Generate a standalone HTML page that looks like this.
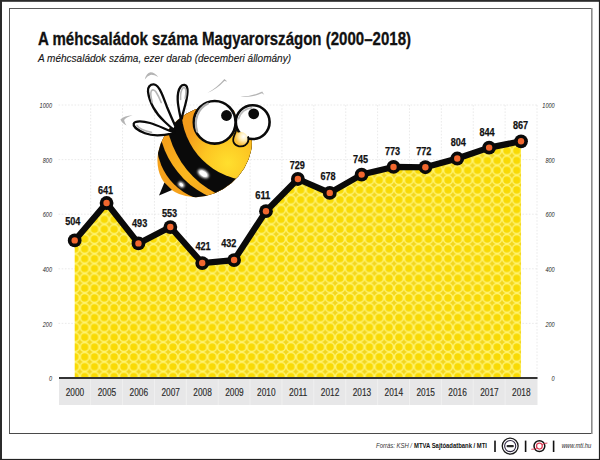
<!DOCTYPE html>
<html><head><meta charset="utf-8"><title>A méhcsaládok száma Magyarországon</title>
<style>
html,body{margin:0;padding:0;background:#fff;}
body{width:600px;height:460px;overflow:hidden;font-family:"Liberation Sans",sans-serif;}
svg{display:block;font-family:"Liberation Sans",sans-serif;}
</style></head><body>
<svg width="600" height="460" viewBox="0 0 600 460">
<defs>
<pattern id="honey" x="1.2" y="-1.55" width="9.82" height="9.82" patternUnits="userSpaceOnUse">
<rect width="9.82" height="9.82" fill="#f3d61e"/>
<circle cx="4.91" cy="4.91" r="4.4" fill="#f9da05"/>
<g fill="none" stroke="#fff36c" stroke-width="1.5">
<circle cx="4.91" cy="4.91" r="4.4"/>
<circle cx="-4.91" cy="4.91" r="4.4"/>
<circle cx="14.73" cy="4.91" r="4.4"/>
<circle cx="4.91" cy="-4.91" r="4.4"/>
<circle cx="4.91" cy="14.73" r="4.4"/>
</g>
</pattern>
<radialGradient id="bodyg" gradientUnits="userSpaceOnUse" cx="228" cy="163" r="48">
<stop offset="0" stop-color="#ffdf2e"/><stop offset="0.5" stop-color="#fdc622"/><stop offset="1" stop-color="#f49c1b"/>
</radialGradient>
<linearGradient id="stripeg" gradientUnits="userSpaceOnUse" x1="165" y1="140" x2="205" y2="195">
<stop offset="0" stop-color="#f5a01b"/><stop offset="0.6" stop-color="#fbb81f"/><stop offset="1" stop-color="#f7a81c"/>
</linearGradient>
<radialGradient id="noseg" gradientUnits="userSpaceOnUse" cx="243.6" cy="136.6" r="8.6">
<stop offset="0" stop-color="#ffffff"/><stop offset="0.45" stop-color="#ffeeb8"/><stop offset="1" stop-color="#f9bf3c"/>
</radialGradient>
<clipPath id="bodyclip"><ellipse cx="204.6" cy="151.5" rx="50.9" ry="41.5" transform="rotate(-40.4 204.6 151.5)"/></clipPath>
<filter id="blur0" x="-50%" y="-50%" width="200%" height="200%"><feGaussianBlur stdDeviation="0.45"/></filter>
<filter id="blur1" x="-50%" y="-50%" width="200%" height="200%"><feGaussianBlur stdDeviation="1.1"/></filter>
</defs>
<rect x="0" y="0" width="600" height="460" fill="#fff"/>
<!-- outer frame -->
<rect x="0" y="0" width="600" height="1.8" fill="#2b2b2b"/>
<rect x="0" y="0" width="2" height="460" fill="#2b2b2b"/>
<rect x="598.9" y="0" width="1.1" height="460" fill="#222"/>
<rect x="0" y="458.9" width="600" height="1.1" fill="#222"/>
<!-- inner frame -->
<rect x="9" y="8" width="583" height="1" fill="#5a5a5a"/>
<rect x="9" y="8" width="1" height="426" fill="#5a5a5a"/>
<rect x="9" y="433" width="583" height="1" fill="#4a4a4a"/>
<rect x="591" y="8" width="1.6" height="426" fill="#8c8c8c"/>

<text x="38" y="44.5" font-size="17.6" font-weight="bold" fill="#111" stroke="#111" stroke-width="0.3" textLength="373" lengthAdjust="spacingAndGlyphs">A méhcsaládok száma Magyarországon (2000–2018)</text>
<text x="38" y="62.4" font-size="10.4" font-style="italic" fill="#151515" stroke="#151515" stroke-width="0.12" textLength="253" lengthAdjust="spacingAndGlyphs">A méhcsaládok száma, ezer darab (decemberi állomány)</text>
<g stroke="#e4e4e4" stroke-width="0.8" stroke-dasharray="1.6,1.6" fill="none">
<line x1="58.5" y1="323.40" x2="537" y2="323.40"/>
<line x1="58.5" y1="268.80" x2="537" y2="268.80"/>
<line x1="58.5" y1="214.20" x2="537" y2="214.20"/>
<line x1="58.5" y1="159.60" x2="537" y2="159.60"/>
<line x1="58.5" y1="105.00" x2="537" y2="105.00"/>
<line x1="90.68" y1="105" x2="90.68" y2="378"/>
<line x1="122.56" y1="105" x2="122.56" y2="378"/>
<line x1="154.44" y1="105" x2="154.44" y2="378"/>
<line x1="186.32" y1="105" x2="186.32" y2="378"/>
<line x1="218.20" y1="105" x2="218.20" y2="378"/>
<line x1="250.08" y1="105" x2="250.08" y2="378"/>
<line x1="281.96" y1="105" x2="281.96" y2="378"/>
<line x1="313.84" y1="105" x2="313.84" y2="378"/>
<line x1="345.72" y1="105" x2="345.72" y2="378"/>
<line x1="377.60" y1="105" x2="377.60" y2="378"/>
<line x1="409.48" y1="105" x2="409.48" y2="378"/>
<line x1="441.36" y1="105" x2="441.36" y2="378"/>
<line x1="473.24" y1="105" x2="473.24" y2="378"/>
<line x1="505.12" y1="105" x2="505.12" y2="378"/>
<line x1="537.00" y1="105" x2="537.00" y2="378"/>
</g>
<g font-size="7.2" font-style="italic" fill="#262626">
<text x="48.90" y="381.10" textLength="3.10" lengthAdjust="spacingAndGlyphs">0</text>
<text x="551.60" y="381.10" textLength="3.10" lengthAdjust="spacingAndGlyphs">0</text>
<text x="42.70" y="326.50" textLength="9.30" lengthAdjust="spacingAndGlyphs">200</text>
<text x="545.40" y="326.50" textLength="9.30" lengthAdjust="spacingAndGlyphs">200</text>
<text x="42.70" y="271.90" textLength="9.30" lengthAdjust="spacingAndGlyphs">400</text>
<text x="545.40" y="271.90" textLength="9.30" lengthAdjust="spacingAndGlyphs">400</text>
<text x="42.70" y="217.30" textLength="9.30" lengthAdjust="spacingAndGlyphs">600</text>
<text x="545.40" y="217.30" textLength="9.30" lengthAdjust="spacingAndGlyphs">600</text>
<text x="42.70" y="162.70" textLength="9.30" lengthAdjust="spacingAndGlyphs">800</text>
<text x="545.40" y="162.70" textLength="9.30" lengthAdjust="spacingAndGlyphs">800</text>
<text x="39.60" y="108.10" textLength="12.40" lengthAdjust="spacingAndGlyphs">1000</text>
<text x="542.30" y="108.10" textLength="12.40" lengthAdjust="spacingAndGlyphs">1000</text>
</g>
<path d="M74.70,240.41 L106.58,203.01 L138.46,243.41 L170.34,227.03 L202.22,263.07 L234.10,260.06 L265.98,211.20 L297.86,178.98 L329.74,192.91 L361.62,174.61 L393.50,166.97 L425.38,167.24 L457.26,158.51 L489.14,147.59 L521.02,141.31 L521.02,378 L74.70,378 Z" fill="url(#honey)"/>
<rect x="59" y="378" width="478.5" height="27" fill="#e7e7e8"/>
<g stroke="#f0f0f0" stroke-width="0.9">
<line x1="90.68" y1="379" x2="90.68" y2="405"/>
<line x1="122.56" y1="379" x2="122.56" y2="405"/>
<line x1="154.44" y1="379" x2="154.44" y2="405"/>
<line x1="186.32" y1="379" x2="186.32" y2="405"/>
<line x1="218.20" y1="379" x2="218.20" y2="405"/>
<line x1="250.08" y1="379" x2="250.08" y2="405"/>
<line x1="281.96" y1="379" x2="281.96" y2="405"/>
<line x1="313.84" y1="379" x2="313.84" y2="405"/>
<line x1="345.72" y1="379" x2="345.72" y2="405"/>
<line x1="377.60" y1="379" x2="377.60" y2="405"/>
<line x1="409.48" y1="379" x2="409.48" y2="405"/>
<line x1="441.36" y1="379" x2="441.36" y2="405"/>
<line x1="473.24" y1="379" x2="473.24" y2="405"/>
<line x1="505.12" y1="379" x2="505.12" y2="405"/>
</g>
<rect x="59" y="377" width="478.5" height="2" fill="#333"/>
<g font-size="10.5" fill="#2a2a2a" stroke="#2a2a2a" stroke-width="0.15" text-anchor="middle">
<text x="75.00" y="395.8" textLength="18.5" lengthAdjust="spacingAndGlyphs">2000</text>
<text x="106.88" y="395.8" textLength="18.5" lengthAdjust="spacingAndGlyphs">2005</text>
<text x="138.76" y="395.8" textLength="18.5" lengthAdjust="spacingAndGlyphs">2006</text>
<text x="170.64" y="395.8" textLength="18.5" lengthAdjust="spacingAndGlyphs">2007</text>
<text x="202.52" y="395.8" textLength="18.5" lengthAdjust="spacingAndGlyphs">2008</text>
<text x="234.40" y="395.8" textLength="18.5" lengthAdjust="spacingAndGlyphs">2009</text>
<text x="266.28" y="395.8" textLength="18.5" lengthAdjust="spacingAndGlyphs">2010</text>
<text x="298.16" y="395.8" textLength="18.5" lengthAdjust="spacingAndGlyphs">2011</text>
<text x="330.04" y="395.8" textLength="18.5" lengthAdjust="spacingAndGlyphs">2012</text>
<text x="361.92" y="395.8" textLength="18.5" lengthAdjust="spacingAndGlyphs">2013</text>
<text x="393.80" y="395.8" textLength="18.5" lengthAdjust="spacingAndGlyphs">2014</text>
<text x="425.68" y="395.8" textLength="18.5" lengthAdjust="spacingAndGlyphs">2015</text>
<text x="457.56" y="395.8" textLength="18.5" lengthAdjust="spacingAndGlyphs">2016</text>
<text x="489.44" y="395.8" textLength="18.5" lengthAdjust="spacingAndGlyphs">2017</text>
<text x="521.32" y="395.8" textLength="18.5" lengthAdjust="spacingAndGlyphs">2018</text>
</g>
<path d="M74.70,240.41 L106.58,203.01 L138.46,243.41 L170.34,227.03 L202.22,263.07 L234.10,260.06 L265.98,211.20 L297.86,178.98 L329.74,192.91 L361.62,174.61 L393.50,166.97 L425.38,167.24 L457.26,158.51 L489.14,147.59 L521.02,141.31" fill="none" stroke="#0a0a0a" stroke-width="6.2" stroke-linejoin="round" stroke-linecap="round"/>
<circle cx="74.70" cy="240.41" r="6.9" fill="#0a0a0a"/><circle cx="74.70" cy="240.41" r="3.2" fill="#f2672e"/>
<circle cx="106.58" cy="203.01" r="6.9" fill="#0a0a0a"/><circle cx="106.58" cy="203.01" r="3.2" fill="#f2672e"/>
<circle cx="138.46" cy="243.41" r="6.9" fill="#0a0a0a"/><circle cx="138.46" cy="243.41" r="3.2" fill="#f2672e"/>
<circle cx="170.34" cy="227.03" r="6.9" fill="#0a0a0a"/><circle cx="170.34" cy="227.03" r="3.2" fill="#f2672e"/>
<circle cx="202.22" cy="263.07" r="6.9" fill="#0a0a0a"/><circle cx="202.22" cy="263.07" r="3.2" fill="#f2672e"/>
<circle cx="234.10" cy="260.06" r="6.9" fill="#0a0a0a"/><circle cx="234.10" cy="260.06" r="3.2" fill="#f2672e"/>
<circle cx="265.98" cy="211.20" r="6.9" fill="#0a0a0a"/><circle cx="265.98" cy="211.20" r="3.2" fill="#f2672e"/>
<circle cx="297.86" cy="178.98" r="6.9" fill="#0a0a0a"/><circle cx="297.86" cy="178.98" r="3.2" fill="#f2672e"/>
<circle cx="329.74" cy="192.91" r="6.9" fill="#0a0a0a"/><circle cx="329.74" cy="192.91" r="3.2" fill="#f2672e"/>
<circle cx="361.62" cy="174.61" r="6.9" fill="#0a0a0a"/><circle cx="361.62" cy="174.61" r="3.2" fill="#f2672e"/>
<circle cx="393.50" cy="166.97" r="6.9" fill="#0a0a0a"/><circle cx="393.50" cy="166.97" r="3.2" fill="#f2672e"/>
<circle cx="425.38" cy="167.24" r="6.9" fill="#0a0a0a"/><circle cx="425.38" cy="167.24" r="3.2" fill="#f2672e"/>
<circle cx="457.26" cy="158.51" r="6.9" fill="#0a0a0a"/><circle cx="457.26" cy="158.51" r="3.2" fill="#f2672e"/>
<circle cx="489.14" cy="147.59" r="6.9" fill="#0a0a0a"/><circle cx="489.14" cy="147.59" r="3.2" fill="#f2672e"/>
<circle cx="521.02" cy="141.31" r="6.9" fill="#0a0a0a"/><circle cx="521.02" cy="141.31" r="3.2" fill="#f2672e"/>
<g font-size="11" font-weight="bold" fill="#111" stroke="#111" stroke-width="0.25" text-anchor="middle">
<text x="72.75" y="225" textLength="15.2" lengthAdjust="spacingAndGlyphs">504</text>
<text x="105.5" y="193.75" textLength="15.2" lengthAdjust="spacingAndGlyphs">641</text>
<text x="139.6" y="226.5" textLength="15.2" lengthAdjust="spacingAndGlyphs">493</text>
<text x="169.5" y="217" textLength="15.2" lengthAdjust="spacingAndGlyphs">553</text>
<text x="203" y="249.5" textLength="15.2" lengthAdjust="spacingAndGlyphs">421</text>
<text x="228.75" y="247" textLength="15.2" lengthAdjust="spacingAndGlyphs">432</text>
<text x="262.75" y="199.2" textLength="15.2" lengthAdjust="spacingAndGlyphs">611</text>
<text x="297.25" y="169" textLength="15.2" lengthAdjust="spacingAndGlyphs">729</text>
<text x="328" y="179.5" textLength="15.2" lengthAdjust="spacingAndGlyphs">678</text>
<text x="360.5" y="162.5" textLength="15.2" lengthAdjust="spacingAndGlyphs">745</text>
<text x="392.5" y="155" textLength="15.2" lengthAdjust="spacingAndGlyphs">773</text>
<text x="423.75" y="155" textLength="15.2" lengthAdjust="spacingAndGlyphs">772</text>
<text x="458.25" y="145.75" textLength="15.2" lengthAdjust="spacingAndGlyphs">804</text>
<text x="487" y="135.5" textLength="15.2" lengthAdjust="spacingAndGlyphs">844</text>
<text x="520.5" y="129.25" textLength="15.2" lengthAdjust="spacingAndGlyphs">867</text>
</g>
<g id="bee">
<!-- motion swooshes -->
<g fill="#b4b4b4" stroke="none">
<path d="M144.8,79.4 Q146.3,73 150.5,72.2 Q154.6,72.2 158.3,76.9 Q153.6,74.5 150.4,74.9 Q147.4,75.5 144.8,79.4 Z"/>
<path d="M132.6,115.2 Q124.2,115.6 120.4,119.5 Q121.8,123.2 126.6,125.6 Q124.4,122.2 124.1,119.9 Q126.6,116.8 132.6,115.2 Z"/>
<path d="M207.3,92.9 Q216.5,88 224.4,78.9 L227.3,81.4 L224.4,80.9 Q216.9,89.1 207.3,92.9 Z"/>
<path d="M240.3,96.7 Q252,96.4 262.2,91.6 L264.2,94.8 L261.9,93.3 Q252,98 240.3,96.7 Z"/>
</g>
<!-- body -->
<g transform="rotate(-40.4 204.6 151.5)">
<ellipse cx="204.6" cy="151.5" rx="50.9" ry="41.5" fill="#f6a21b"/>
</g>
<g clip-path="url(#bodyclip)">
<circle cx="215.5" cy="142.8" r="58.7" fill="#0a0a0a"/>
<circle cx="245.85" cy="116.9" r="87.7" fill="url(#stripeg)"/>
<circle cx="259.75" cy="110.1" r="94.1" fill="#0a0a0a"/>
<circle cx="252.8" cy="109.25" r="71.45" fill="url(#bodyg)"/>
<!-- highlights -->
<ellipse cx="203.3" cy="173.7" rx="6.2" ry="3.6" transform="rotate(33 203.3 173.7)" fill="#fff" filter="url(#blur1)"/>
<ellipse cx="203.3" cy="173.7" rx="4.1" ry="2.3" transform="rotate(33 203.3 173.7)" fill="#fff"/>
<ellipse cx="181.3" cy="184.7" rx="3.4" ry="2.4" transform="rotate(40 181.3 184.7)" fill="#fff" filter="url(#blur1)"/>
<ellipse cx="181.3" cy="184.7" rx="2" ry="1.4" transform="rotate(40 181.3 184.7)" fill="#fff"/>
</g>
<!-- stinger -->
<path d="M159,195.4 L164.4,182.6 L172,190 Z" fill="#0a0a0a"/>
<!-- wings -->
<g fill="#fff" stroke="#0a0a0a" stroke-width="2.3" stroke-linejoin="round">
<path d="M175.5,126.5 C173,121 169.5,113 167.3,107.8 C165,102 163.8,98 161.5,93 C159.5,88.6 157.2,84.6 153.8,84.4 C150.2,84.2 147.4,87.2 148,91.6 C148.6,97 150.6,102.5 153.4,107.6 C156.5,113.3 161,118.3 165,122 C168,124.8 171,127.5 174,130 Z"/>
<path d="M180.9,119.5 C179.6,113 177.9,106 177.7,100 C177.5,94 178.6,89.5 180.6,86.8 C181.8,85.2 183.2,84.8 184.4,84.9 C186.8,85.2 187.7,88 187.5,92 C187.3,98 185.6,104 184,109.5 C183,113 182.2,116 181.8,118.5 Z"/>
<path d="M174.5,132.6 C167,130.2 158,125.2 150,123 C143,121 135,120.6 133.7,123.6 C132.8,126.5 138,130.5 145,133.3 C152,136 163,135.6 173,133.4 Z"/>
</g>
<g fill="none" stroke="#b6b6b6" stroke-width="1.6" stroke-linecap="round" filter="url(#blur0)">
<path d="M152.3,102.5 C150.9,97.5 150.3,93 151.3,91 C152.3,89.2 154.4,89.6 156,92 C158,95 159.8,99 161.2,102.5"/>
<path d="M180.6,99.5 C180.3,94.5 181.1,90 183,87.9 C184.4,86.7 185.7,88 185.9,91 C186,93.5 185.7,96 185.2,98.5"/>
<path d="M137,125.4 C138.5,128 143.5,130.8 151.5,132.4"/>
</g>
<!-- eyes -->
<path d="M232.5,104 L240.5,105 L236.2,117.5 Z" fill="#fff"/>
<ellipse cx="252.7" cy="122.1" rx="16.9" ry="16.9" fill="#fff" stroke="#0a0a0a" stroke-width="2.6"/>
<ellipse cx="214.7" cy="122.3" rx="20.9" ry="21.3" fill="#fff" stroke="#0a0a0a" stroke-width="2.6"/>
<path d="M197.2,131.5 C193.6,121 197.5,108.5 208,103.6" fill="none" stroke="#b0b0b0" stroke-width="2.2" stroke-linecap="round" filter="url(#blur0)"/>
<path d="M238.7,118.6 A14.4,14.4 0 0 1 251.6,107.8" fill="none" stroke="#bababa" stroke-width="1.8" stroke-linecap="round" filter="url(#blur0)"/>
<circle cx="226.5" cy="115.5" r="5.4" fill="#0a0a0a"/>
<circle cx="253.7" cy="113.8" r="5.4" fill="#0a0a0a"/>
<!-- nose -->
<circle cx="241" cy="139" r="6.9" fill="url(#noseg)"/>
<path d="M236.2,129.6 C236,131.5 235.2,133.4 234.3,135.4 C233,138.4 232.8,140.8 233.8,142.6 C235.8,146.6 241.6,147.6 245.5,144.9 C248.2,142.8 249,140 248.2,137" fill="none" stroke="#0a0a0a" stroke-width="1.8" stroke-linecap="round" stroke-linejoin="round"/>
</g>

<text x="376" y="448.0" font-size="7" font-style="italic" fill="#333" textLength="36" lengthAdjust="spacingAndGlyphs">Forrás: KSH /</text>
<text x="414" y="448.0" font-size="7" font-weight="bold" fill="#111" textLength="73" lengthAdjust="spacingAndGlyphs">MTVA Sajtóadatbank / MTI</text>
<rect x="494.2" y="440.6" width="1.6" height="11.4" fill="#111"/>
<rect x="524.8000000000001" y="440.6" width="1.6" height="11.4" fill="#111"/>
<rect x="552.8000000000001" y="440.6" width="1.6" height="11.4" fill="#111"/>
<circle cx="510.2" cy="446.1" r="7.95" fill="#fff" stroke="#1a1a1a" stroke-width="1.3"/>
<circle cx="510.2" cy="446.1" r="5.55" fill="#fff" stroke="#2c2440" stroke-width="1.1"/>
<rect x="506.5" y="444.9" width="7.4" height="2.4" rx="1.2" fill="#2a2a2a"/>
<circle cx="539.4" cy="446.1" r="5.4" fill="none" stroke="#111" stroke-width="1.5"/>
<path d="M531.3,449.3 L534.8,449 L544.2,443.4 L547.4,443.1" fill="none" stroke="#d9344c" stroke-width="0.9"/>
<circle cx="539.4" cy="446.1" r="2.9" fill="#fff" stroke="#dc3c54" stroke-width="1.25"/>
<text x="561.7" y="448.4" font-size="7" font-style="italic" fill="#1e1e1e" textLength="29.5" lengthAdjust="spacingAndGlyphs">www.mti.hu</text>
</svg></body></html>
